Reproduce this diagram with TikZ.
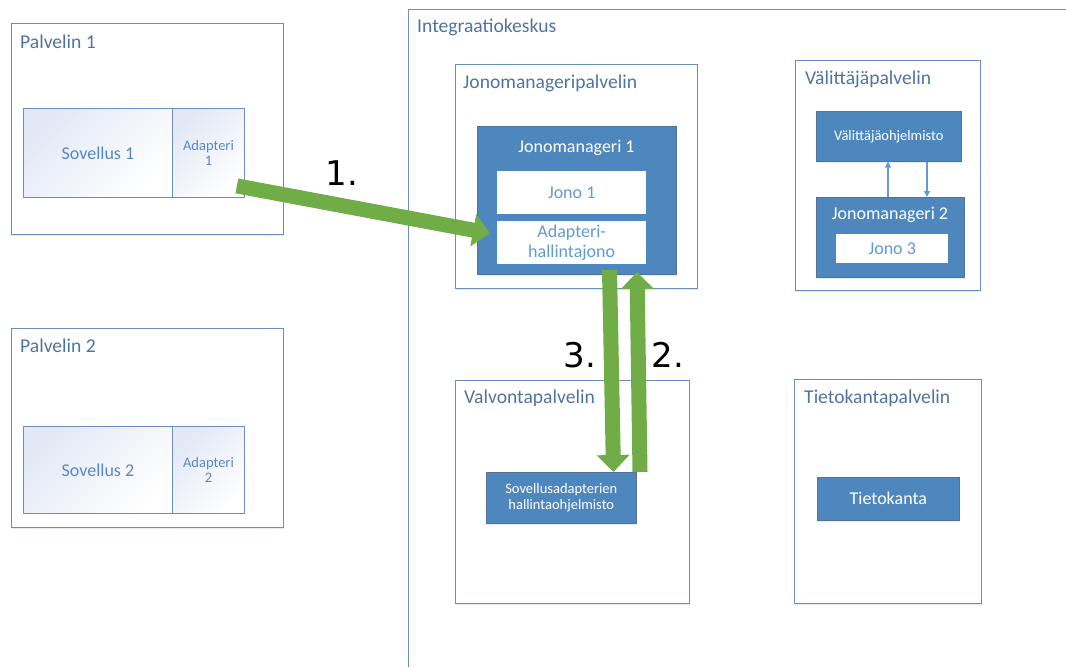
\documentclass[tikz,border=0pt]{standalone}
\usepackage{fontspec}
\setmainfont{Carlito}
\newfontfamily\numfont{DejaVu Sans}
\usetikzlibrary{arrows.meta,shadows,calc}

\definecolor{frame}{RGB}{108,142,188}
\definecolor{titletext}{RGB}{80,116,160}
\definecolor{darkfill}{RGB}{78,135,189}
\definecolor{lighttext}{RGB}{100,152,215}
\definecolor{apptext}{RGB}{88,136,194}
\definecolor{appfill}{RGB}{226,232,245}
\definecolor{flow}{RGB}{112,173,71}

\begin{document}
\begin{tikzpicture}[x=1pt,y=-1pt,
  softshadow/.style={drop shadow={shadow xshift=0.6pt,shadow yshift=-1.6pt,opacity=0.18,fill=frame}},
  server/.style={draw=frame,line width=0.9pt,fill=white,inner sep=0pt,anchor=north west,softshadow},
  appbox/.style={draw=frame,line width=0.9pt,inner sep=0pt,anchor=north west,
    top color=appfill,bottom color=white,shading angle=45,
    text=apptext,align=center},
  darkbox/.style={draw=frame!80!black,line width=0.6pt,fill=darkfill,inner sep=0pt,anchor=north west,
    text=white,align=center,softshadow},
  queuebox/.style={fill=white,inner sep=0pt,anchor=north west,text=lighttext,align=center},
  title/.style={text=titletext,inner sep=0pt,anchor=base west,font=\fontsize{19.6}{23}\selectfont},
  bigtext/.style={font=\fontsize{18}{21}\selectfont},
  smalltext/.style={font=\fontsize{14.5}{17}\selectfont},
  flowarrow/.style={draw=flow,line width=15pt,-{Triangle[length=17pt,width=32pt]}},
  linkarrow/.style={draw=lighttext,line width=1.4pt,-{Triangle[length=6pt,width=6pt]}},
  numlabel/.style={inner sep=0pt,font=\numfont\fontsize{34}{40}\selectfont}
]
\useasboundingbox[fill=white] (0,0) rectangle (1066,667);

% Integration centre outline (open to the right and bottom)
\draw[frame,line width=0.9pt] (408,667) -- (408,9) -- (1066,9);
\node[title] (ik) at (417,32) {Integraatiokeskus};

% Server 1
\node[server,minimum width=272pt,minimum height=211pt] (p1) at (11,23) {};
\node[title] (p1t) at (20,48) {Palvelin 1};
\node[appbox,bigtext,minimum width=149pt,minimum height=89pt] (s1) at (23,108) {Sovellus 1};
\node[appbox,smalltext,minimum width=72pt,minimum height=89pt] (ad1) at (172,108) {Adapteri\\[-2pt]1};

% Server 2
\node[server,minimum width=272pt,minimum height=199pt] (p2) at (11,328) {};
\node[title] (p2t) at (20,352) {Palvelin 2};
\node[appbox,bigtext,minimum width=149pt,minimum height=87pt] (s2) at (23,426) {Sovellus 2};
\node[appbox,smalltext,minimum width=72pt,minimum height=87pt] (ad2) at (172,426) {Adapteri\\[-2pt]2};

% Queue manager server
\node[server,minimum width=242pt,minimum height=224pt] (jmp) at (455,64) {};
\node[title] (jmpt) at (463,88) {Jonomanageripalvelin};
\node[darkbox,minimum width=199pt,minimum height=148pt] (jm1) at (477,126) {};
\node[bigtext,text=white,inner sep=0pt,anchor=base] (jm1t) at (576.5,152) {Jonomanageri 1};
\node[queuebox,bigtext,minimum width=149pt,minimum height=43pt] (q1) at (497,171) {Jono 1};
\node[queuebox,bigtext,minimum width=149pt,minimum height=43pt] (hq) at (497,221) {Adapteri-\\[-1pt]hallintajono};

% Broker server
\node[server,minimum width=185pt,minimum height=230pt] (vp) at (795,60) {};
\node[title] (vpt) at (805,84) {Välittäjäpalvelin};
\node[darkbox,smalltext,minimum width=145pt,minimum height=50pt] (vo) at (816,111) {Välittäjäohjelmisto};
\node[darkbox,minimum width=148pt,minimum height=80pt] (jm2) at (816,197) {};
\node[bigtext,text=white,inner sep=0pt,anchor=base] (jm2t) at (890,219) {Jonomanageri 2};
\node[queuebox,bigtext,minimum width=112pt,minimum height=29pt] (q3) at (836,234) {Jono 3};
\coordinate (upx) at (888,0);
\coordinate (downx) at (927,0);
\draw[linkarrow] (upx |- jm2.north) -- (upx |- vo.south);
\draw[linkarrow] (downx |- vo.south) -- (downx |- jm2.north);

% Monitoring server
\node[server,minimum width=234pt,minimum height=223pt] (vv) at (455,380) {};
\node[title] (vvt) at (464,403) {Valvontapalvelin};
\node[darkbox,smalltext,minimum width=150pt,minimum height=51pt] (sah) at (486,472) {Sovellusadapterien\\[-1pt]hallintaohjelmisto};

% Database server
\node[server,minimum width=187pt,minimum height=224pt] (tp) at (794,379) {};
\node[title] (tpt) at (804,403) {Tietokantapalvelin};
\node[darkbox,bigtext,minimum width=142pt,minimum height=43pt] (tk) at (817,477) {Tietokanta};

% Message flows
\coordinate (f1a) at ($(ad1.south east)+(-8,-12)$);
\coordinate (f1b) at ($(jm1.west)+(13,33)$);
\draw[flowarrow] (f1a) -- (f1b);
\coordinate (f3a) at (609.5,270);
\coordinate (f3b) at (613.5,0);
\draw[flowarrow] (f3a) -- (f3b |- sah.north);
\coordinate (f2a) at (640,0);
\coordinate (f2b) at (637,272);
\draw[flowarrow] (f2a |- sah.north) -- (f2b);

\node[numlabel] (n1) at (342,173) {1.};
\node[numlabel] (n3) at (580,355) {3.};
\node[numlabel] (n2) at (668,355) {2.};
\end{tikzpicture}
\end{document}
